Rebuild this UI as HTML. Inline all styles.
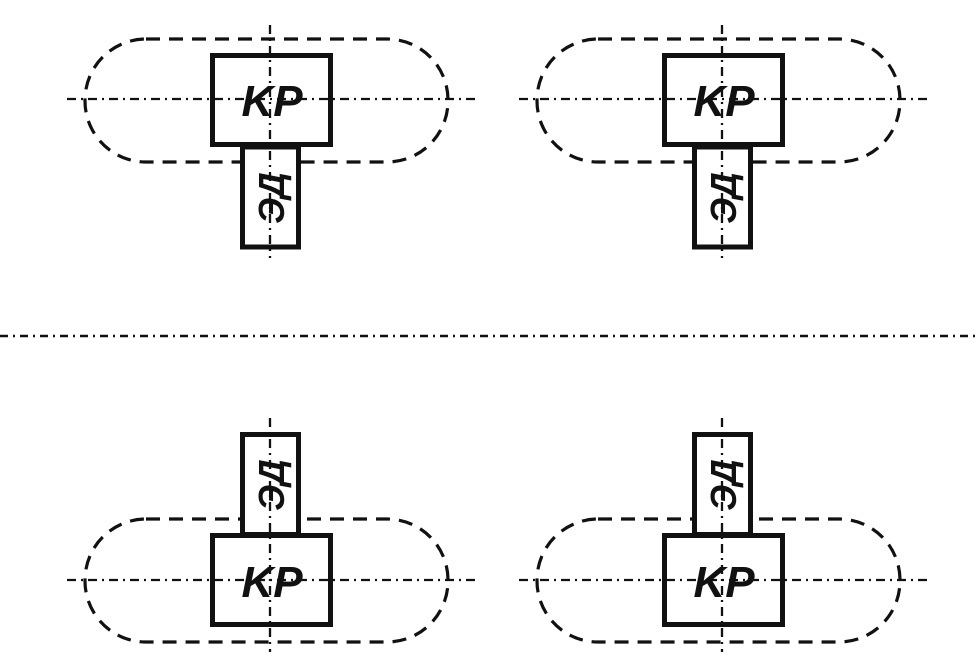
<!DOCTYPE html>
<html><head><meta charset="utf-8"><style>html,body{margin:0;padding:0;background:#fff}svg{display:block}</style></head>
<body>
<svg width="980" height="662" viewBox="0 0 980 662" xmlns="http://www.w3.org/2000/svg">
<defs>
<g id="top">
  <rect x="85" y="39" width="363" height="123" rx="61" ry="61" fill="none" stroke="#111" stroke-width="3.2" stroke-dasharray="14 9"/>
  <rect x="212.5" y="55.5" width="118" height="89" fill="#fff" stroke="#111" stroke-width="5"/>
  <rect x="242.5" y="147" width="56" height="100" fill="#fff" stroke="#111" stroke-width="5"/>
  <line x1="67" y1="99" x2="475" y2="99" stroke="#111" stroke-width="2.3" stroke-dasharray="9 5 2 5"/>
  <line x1="270" y1="25" x2="270" y2="258" stroke="#111" stroke-width="2.3" stroke-dasharray="9 5 2 5"/>
  <text x="272" y="116" text-anchor="middle" font-family="Liberation Sans, sans-serif" font-weight="bold" font-style="italic" font-size="44" fill="#111">KP</text>
  <text transform="translate(284,198) rotate(-90)" text-anchor="middle" font-family="Liberation Sans, DejaVu Sans, sans-serif" font-weight="bold" font-style="italic" font-size="36" fill="#111">ЭД</text>
</g>
<g id="bot">
  <rect x="85" y="519" width="363" height="123" rx="61" ry="61" fill="none" stroke="#111" stroke-width="3.2" stroke-dasharray="14 9"/>
  <rect x="242.5" y="434.5" width="56" height="100" fill="#fff" stroke="#111" stroke-width="5"/>
  <rect x="212.5" y="535.5" width="118" height="89" fill="#fff" stroke="#111" stroke-width="5"/>
  <line x1="67" y1="580" x2="475" y2="580" stroke="#111" stroke-width="2.3" stroke-dasharray="9 5 2 5"/>
  <line x1="270" y1="418" x2="270" y2="652" stroke="#111" stroke-width="2.3" stroke-dasharray="9 5 2 5"/>
  <text x="272" y="597" text-anchor="middle" font-family="Liberation Sans, sans-serif" font-weight="bold" font-style="italic" font-size="44" fill="#111">KP</text>
  <text transform="translate(284,485) rotate(-90)" text-anchor="middle" font-family="Liberation Sans, DejaVu Sans, sans-serif" font-weight="bold" font-style="italic" font-size="36" fill="#111">ЭД</text>
</g>
</defs>
<use href="#top"/>
<use href="#top" x="452"/>
<use href="#bot"/>
<use href="#bot" x="452"/>
<line x1="0" y1="336" x2="980" y2="336" stroke="#111" stroke-width="2.5" stroke-dasharray="8 5 2 5"/>
</svg>
</body></html>
